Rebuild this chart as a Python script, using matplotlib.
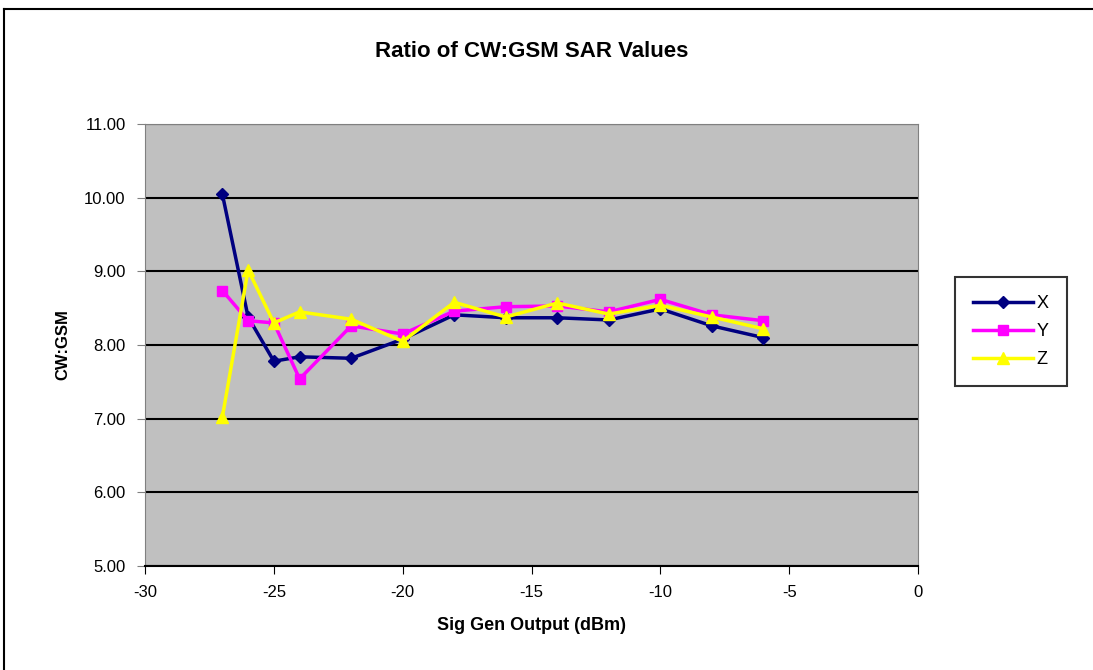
import matplotlib
matplotlib.use("Agg")
import matplotlib.pyplot as plt
from matplotlib.lines import Line2D

plt.rcParams['font.family'] = ['Liberation Sans', 'DejaVu Sans']
plt.rcParams['axes.unicode_minus'] = False

power = [-27, -26, -25, -24, -22, -20, -18, -16, -14, -12, -10, -8, -6]
x_ratio = [10.05, 8.38, 7.78, 7.84, 7.82, 8.08, 8.41, 8.37, 8.37, 8.34, 8.49, 8.26, 8.10]
y_ratio = [8.74, 8.33, 8.30, 7.54, 8.26, 8.15, 8.46, 8.52, 8.53, 8.45, 8.62, 8.41, 8.33]
z_ratio = [7.02, 9.02, 8.30, 8.45, 8.35, 8.05, 8.58, 8.38, 8.57, 8.42, 8.54, 8.38, 8.22]

fig = plt.figure(figsize=(10.93, 6.70), dpi=100)
ax = fig.add_axes([0.1327, 0.1552, 0.7072, 0.6597])
ax.set_facecolor('#c0c0c0')

ax.plot(power, x_ratio, color='#000080', marker='D', markersize=6, lw=2.5, label='X')
ax.plot(power, y_ratio, color='#ff00ff', marker='s', markersize=7, lw=2.5, label='Y')
ax.plot(power, z_ratio, color='#ffff00', marker='^', markersize=8, lw=2.5, label='Z')

ax.set_xlim(-30, 0)
ax.set_ylim(5, 11)
ax.set_xticks(range(-30, 1, 5))
ax.set_yticks(range(5, 12))
ax.set_yticklabels(['%.2f' % v for v in range(5, 12)])
ax.yaxis.grid(True, color='black', lw=1.5)
ax.set_axisbelow(True)
for s in ['top', 'right', 'left']:
    ax.spines[s].set_color('#808080')
ax.spines['bottom'].set_color('black')
ax.spines['bottom'].set_linewidth(1.5)
ax.tick_params(axis='both', direction='out', length=6, labelsize=12, pad=8)
ax.tick_params(axis='y', color='#808080')

ax.set_title('Ratio of CW:GSM SAR Values', fontsize=16, fontweight='bold', pad=48)
ax.set_xlabel('Sig Gen Output (dBm)', fontsize=13, fontweight='bold', labelpad=12)
ax.set_ylabel('CW:GSM', fontsize=12, fontweight='bold', labelpad=10)

leg = fig.legend(loc='center left', bbox_to_anchor=(0.874, 0.505), fontsize=13,
                 frameon=True, fancybox=False, edgecolor='black', handlelength=3.3,
                 borderpad=1.0, labelspacing=0.6, handletextpad=0.2, borderaxespad=0)
leg.get_frame().set_linewidth(1.5)

# outer chart border
fig.add_artist(Line2D([0.004, 0.004], [0, 0.987], color='black', lw=1.5))
fig.add_artist(Line2D([0.004, 1], [0.987, 0.987], color='black', lw=1.5))

fig.savefig('out.png', dpi=100)
